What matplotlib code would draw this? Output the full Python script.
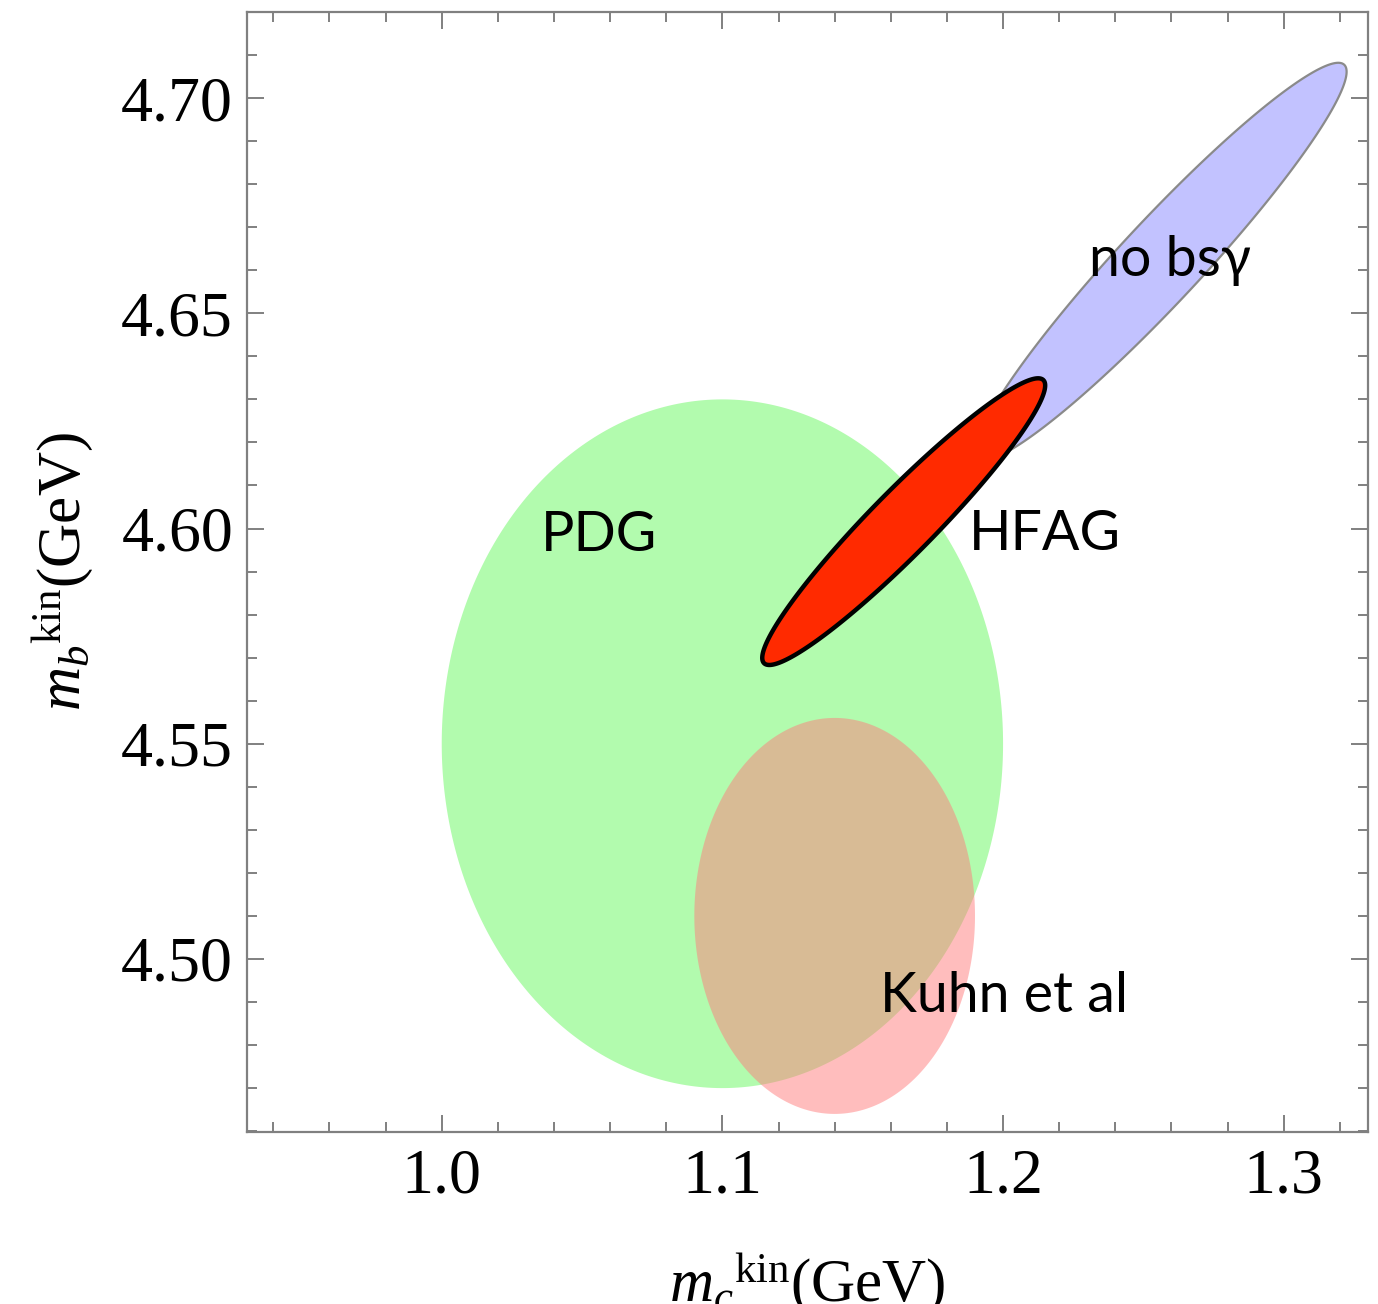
import numpy as np
import matplotlib
matplotlib.use("Agg")
from matplotlib import pyplot as plt
from matplotlib.ticker import MultipleLocator, FormatStrFormatter

plt.rcParams['mathtext.fontset'] = 'custom'
plt.rcParams['mathtext.rm'] = 'Liberation Serif'
plt.rcParams['mathtext.it'] = 'Liberation Serif:italic'

# fit regions: centre (m_c, m_b), half-widths (dm_c, dm_b), correlation
names = ['PDG', 'Kuhn et al', 'no bsγ', 'HFAG']
mc_central = [1.10, 1.140, 1.2562, 1.1646]
mb_central = [4.55, 4.510, 4.6620, 4.6016]
mc_err = [0.100, 0.050, 0.0662, 0.0504]
mb_err = [0.080, 0.046, 0.0462, 0.0333]
corr = [0.0, 0.0, 0.955, 0.95]

# label anchors (centre x, baseline y)
label_mc = [1.0559, 1.2004, 1.2594, 1.215]
label_mb = [4.5947, 4.4877, 4.6586, 4.5949]

face = ['#b2fbae', (1.0, 0.49, 0.49, 0.5), '#c2c2ff', '#ff2a00']
edge = ['none', 'none', '#8a8a8a', 'black']
lw = [0, 0, 1.6, 3.2]


def contour(cx, cy, sx, sy, rho, n=400):
    t = np.linspace(0, 2 * np.pi, n)
    x = cx + sx * np.cos(t)
    y = cy + sy * (rho * np.cos(t) + np.sqrt(1 - rho**2) * np.sin(t))
    return x, y


fig = plt.figure(figsize=(13.78, 13.04), dpi=100)
ax = fig.add_axes([0.1792, 0.1319, 0.8135, 0.8589])

for i in range(len(names)):
    x, y = contour(mc_central[i], mb_central[i], mc_err[i], mb_err[i], corr[i])
    ax.fill(x, y, fc=face[i], ec=edge[i], lw=lw[i], zorder=2 + i)

for i in range(len(names)):
    ax.text(label_mc[i], label_mb[i], names[i], ha='center', va='baseline',
            fontsize=40, family=['Lato', 'DejaVu Sans'], color='black', zorder=10)

ax.set_xlim(0.9306, 1.330)
ax.set_ylim(4.4598, 4.720)

ax.xaxis.set_major_locator(MultipleLocator(0.1))
ax.xaxis.set_minor_locator(MultipleLocator(0.02))
ax.yaxis.set_major_locator(MultipleLocator(0.05))
ax.yaxis.set_minor_locator(MultipleLocator(0.01))
ax.xaxis.set_major_formatter(FormatStrFormatter('%.1f'))
ax.yaxis.set_major_formatter(FormatStrFormatter('%.2f'))

for s in ax.spines.values():
    s.set_color('#808080')
    s.set_linewidth(1.6)
ax.tick_params(which='both', direction='in', top=True, right=True,
               color='#808080', width=1.4)
ax.tick_params(which='major', length=12)
ax.tick_params(which='minor', length=7)
ax.tick_params(axis='x', which='major', pad=12)
ax.tick_params(axis='y', which='major', pad=10)
for lab in ax.get_xticklabels() + ax.get_yticklabels():
    lab.set_family('Liberation Serif')
    lab.set_fontsize(46)

ax.set_xlabel(r'$m_c{}^{\mathrm{kin}}\mathrm{(GeV)}$', fontsize=44)
ax.set_ylabel(r'$m_b{}^{\mathrm{kin}}\mathrm{(GeV)}$', fontsize=44)
ax.xaxis.label.set_va('baseline')
ax.xaxis.set_label_coords(0.5, -0.1509)
ax.yaxis.label.set_va('baseline')
ax.yaxis.set_label_coords(-0.149, 0.5)

fig.savefig('out.png', dpi=100)
